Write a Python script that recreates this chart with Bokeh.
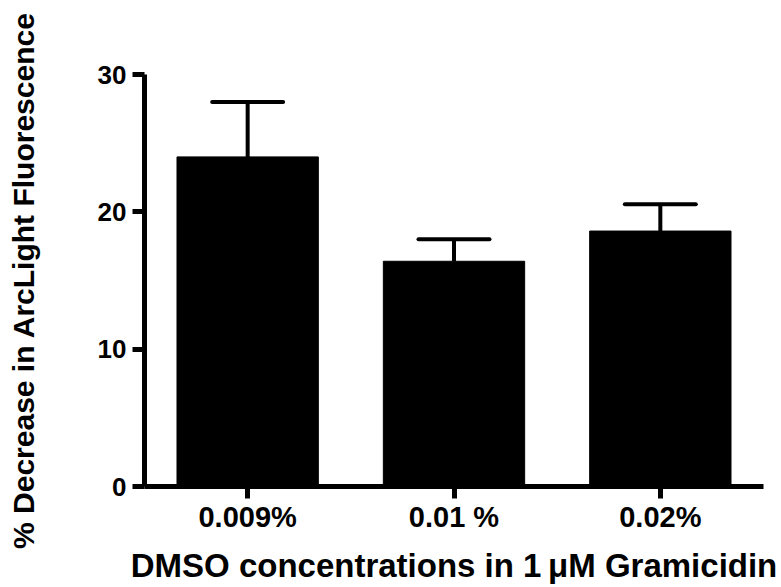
from bokeh.plotting import figure
from bokeh.models import ColumnDataSource, FactorRange, Range1d, FixedTicker
from bokeh.transform import dodge
from bokeh.embed import file_html
from bokeh.resources import INLINE

categories = ["0.009%", "0.01 %", "0.02%"]
means = [24.0, 16.4, 18.6]
errors = [4.0, 1.6, 1.95]
y_ticks = [0, 10, 20, 30]

tops = [m + e for m, e in zip(means, errors)]
src = ColumnDataSource(data=dict(cat=categories, mean=means, top=tops))

FONT = "Liberation Sans"

p = figure(width=781, height=587, output_backend="svg", toolbar_location=None,
           x_range=FactorRange(factors=categories, range_padding=0),
           y_range=Range1d(0, 30),
           min_border_left=144, min_border_right=18, min_border_top=74, min_border_bottom=101)
p.outline_line_color = None
p.xgrid.visible = False
p.ygrid.visible = False
p.background_fill_color = "white"
p.border_fill_color = "white"

p.vbar(x="cat", top="mean", bottom=0, width=0.685, source=src,
       fill_color="black", line_color="black", line_width=1)
p.segment(x0="cat", y0="mean", x1="cat", y1="top", source=src,
          line_color="black", line_width=4)
p.segment(x0=dodge("cat", -0.172, range=p.x_range), y0="top",
          x1=dodge("cat", 0.172, range=p.x_range), y1="top", source=src,
          line_color="black", line_width=4, line_cap="round")

p.yaxis.ticker = FixedTicker(ticks=y_ticks)
p.yaxis.minor_tick_line_color = None
p.yaxis.axis_line_width = 5
p.yaxis.major_tick_line_width = 5
p.yaxis.major_tick_out = 12
p.yaxis.major_tick_in = 0
p.yaxis.major_label_standoff = 6
p.yaxis.major_label_text_font = FONT
p.yaxis.major_label_text_font_style = "bold"
p.yaxis.major_label_text_font_size = "26px"
p.yaxis.major_label_text_color = "black"
p.yaxis.axis_label = "% Decrease in ArcLight Fluorescence"
p.yaxis.axis_label_text_font = FONT
p.yaxis.axis_label_text_font_style = "bold"
p.yaxis.axis_label_text_font_size = "30px"
p.yaxis.axis_label_text_color = "black"
p.yaxis.axis_label_standoff = 55

p.xaxis.axis_line_width = 5
p.xaxis.major_tick_line_width = 5
p.xaxis.major_tick_out = 12
p.xaxis.major_tick_in = 0
p.xaxis.major_label_standoff = 2
p.xaxis.major_label_text_font = FONT
p.xaxis.major_label_text_font_style = "bold"
p.xaxis.major_label_text_font_size = "29px"
p.xaxis.major_label_text_color = "black"
p.xaxis.axis_label = "DMSO concentrations in 1\u2009\u03bcM Gramicidin"
p.xaxis.axis_label_text_font = FONT
p.xaxis.axis_label_text_font_style = "bold"
p.xaxis.axis_label_text_font_size = "33px"
p.xaxis.axis_label_text_color = "black"
p.xaxis.axis_label_standoff = 11

open("out.html", "w").write(file_html(p, INLINE))
